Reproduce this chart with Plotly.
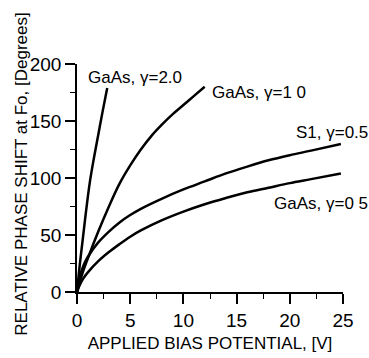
import plotly.graph_objects as go

# Applied bias (V) and relative phase shift (degrees) for each material / gamma
v_gaas_20 = [0, 0.25, 0.5, 0.8, 1.2, 1.6, 2.0, 2.4, 2.84]
p_gaas_20 = [0, 23, 43, 67, 96, 118, 138, 158, 179]

v_gaas_10 = [0, 0.5, 1, 2, 3, 4, 5, 6, 7, 8, 9, 10, 11, 12]
p_gaas_10 = [0, 16, 29, 53, 75, 95, 111, 125, 137, 147, 156, 164, 172, 180]

v_si_05 = [0, 0.25, 0.6, 1, 2, 3, 4, 5, 6, 8, 10, 12, 14, 16, 18, 20, 22, 24.8]
p_si_05 = [0, 13, 23, 30.5, 43.5, 53, 61, 67.5, 73, 82, 90, 97, 104, 110, 115.5, 120, 124, 129.8]

v_gaas_05 = [0, 0.25, 0.6, 1, 2, 3, 4, 5, 6, 8, 10, 12, 14, 16, 18, 20, 22, 24.8]
p_gaas_05 = [0, 6, 12, 17, 27, 35, 42, 48.5, 54, 63, 70.5, 77, 82.5, 87.5, 91.5, 95.5, 99, 104]

labels = ["GaAs, γ=2.0", "GaAs, γ=1 0", "S1, γ=0.5", "GaAs, γ=0 5"]
label_x = [0.84, 12.5, 20.4, 18.3]
label_y = [188.6, 174.6, 140, 78]

x_ticks = [0, 5, 10, 15, 20, 25]
y_ticks = [0, 50, 100, 150, 200]

FONT = "Liberation Sans, Arial, sans-serif"

fig = go.Figure()
for vx, py in [(v_gaas_20, p_gaas_20), (v_gaas_10, p_gaas_10),
               (v_si_05, p_si_05), (v_gaas_05, p_gaas_05)]:
    fig.add_trace(go.Scatter(x=vx, y=py, mode="lines",
                             line=dict(color="black", width=2.5, shape="spline", smoothing=1.0),
                             showlegend=False, hoverinfo="skip"))

for t, lx, ly in zip(labels, label_x, label_y):
    fig.add_annotation(x=lx, y=ly, text=t, showarrow=False, xanchor="left", yanchor="middle",
                       font=dict(family=FONT, size=17, color="black"))

# vertical axis title placed as a rotated annotation left of the tick labels
fig.add_annotation(text="RELATIVE PHASE SHIFT at Fo, [Degrees]", textangle=-90,
                   xref="paper", yref="paper", x=-0.21, y=0.515,
                   xanchor="center", yanchor="middle", showarrow=False,
                   font=dict(family=FONT, size=17, color="black"))

axis_common = dict(showline=True, linecolor="black", linewidth=1.5, showgrid=False, zeroline=False,
                   ticks="outside", ticklen=10, tickwidth=1.5, tickcolor="black", automargin=False,
                   tickfont=dict(family=FONT, size=19, color="black"),
                   minor=dict(ticks="outside", ticklen=5, tickwidth=1, tickcolor="black"))

fig.update_xaxes(range=[0, 25], tickvals=x_ticks, minor_dtick=2.5,
                 title=dict(text="APPLIED BIAS POTENTIAL, [V]", font=dict(family=FONT, size=17, color="black"),
                            standoff=8),
                 **axis_common)
fig.update_yaxes(range=[0, 200], tickvals=y_ticks, minor_dtick=25, **axis_common)

fig.update_layout(width=369, height=358, margin=dict(l=77, r=26, t=64, b=66),
                  paper_bgcolor="white", plot_bgcolor="white")

fig.write_html("out.html")
